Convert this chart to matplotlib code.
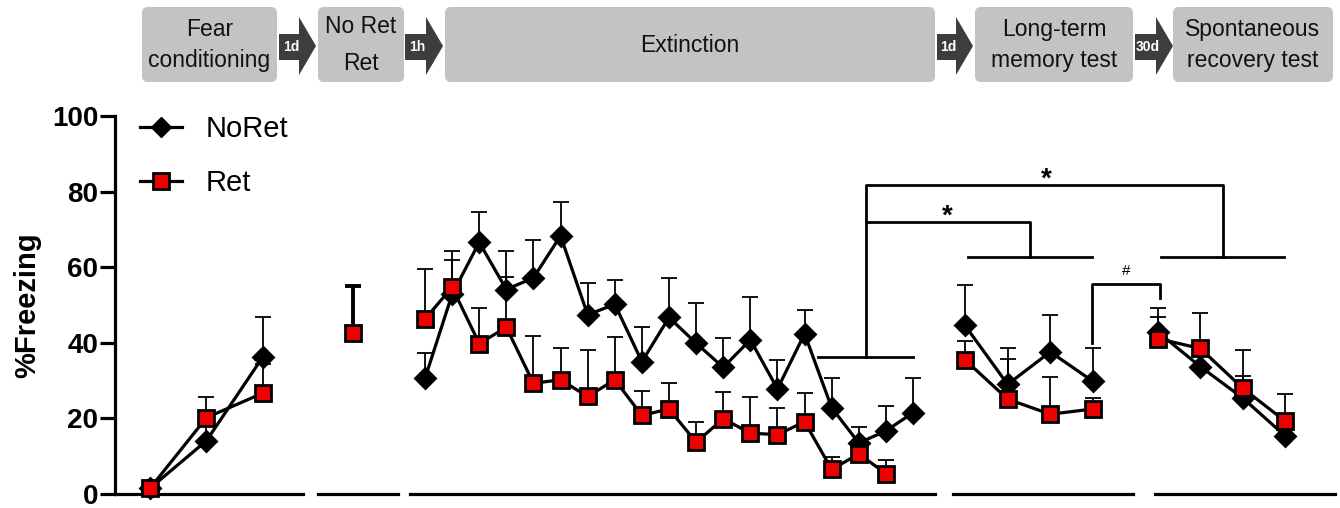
import numpy as np
import matplotlib
matplotlib.use("Agg")
import matplotlib.pyplot as plt
import matplotlib.patches as patches
from matplotlib.lines import Line2D

plt.rcParams["font.family"] = ["Liberation Sans", "DejaVu Sans"]

# ---- data (mean %freezing, upward SEM) ----
fc_trials = [1, 2, 3]
noret_fc = [1.5, 14.1, 36.3]
noret_fc_sem = [0.0, 6.0, 10.4]
ret_fc = [1.5, 20.2, 26.7]
ret_fc_sem = [0.0, 5.5, 7.8]

ret_trials = [1]
ret_ret = [42.7]
ret_ret_sem = [12.3]

ext_trials = list(range(1, 20))
noret_ext = [30.6, 52.8, 66.6, 54.1, 57.2, 68.3, 47.4, 50.2, 35.0, 46.7,
             39.9, 33.5, 40.8, 27.8, 42.4, 22.8, 13.5, 16.7, 21.5]
noret_ext_sem = [6.8, 9.2, 8.0, 10.2, 10.0, 8.9, 8.5, 6.3, 9.1, 10.5,
                 10.5, 7.7, 11.4, 7.6, 6.3, 7.8, 4.1, 6.5, 9.1]
ret_ext = [46.3, 54.7, 39.8, 44.1, 29.3, 30.2, 25.8, 30.2, 20.8, 22.5,
           13.7, 19.9, 16.1, 15.7, 19.1, 6.5, 10.6, 5.4]
ret_ext_sem = [13.3, 9.7, 9.5, 13.3, 12.4, 8.5, 12.4, 11.3, 6.4, 6.8,
               5.4, 7.0, 9.5, 7.1, 7.5, 3.2, 2.0, 3.5]

ltm_trials = [1, 2, 3, 4]
noret_ltm = [44.6, 29.0, 37.6, 29.8]
noret_ltm_sem = [10.8, 9.5, 9.7, 8.9]
ret_ltm = [35.5, 25.1, 21.1, 22.5]
ret_ltm_sem = [5.0, 10.5, 9.8, 3.0]

sr_trials = [1, 2, 3, 4]
noret_sr = [42.8, 33.7, 25.4, 15.4]
noret_sr_sem = [6.4, 4.0, 5.7, 4.0]
ret_sr = [41.1, 38.5, 28.0, 19.3]
ret_sr_sem = [5.6, 9.5, 10.0, 7.2]

yticks = [0, 20, 40, 60, 80, 100]

stages = ["Fear\nconditioning", "No Ret\nRet", "Extinction",
          "Long-term\nmemory test", "Spontaneous\nrecovery test"]
gaps = ["1d", "1h", "1d", "30d"]

RED = "#ee0000"
BOX = "#c3c3c3"
ARROW = "#3d3d3d"

W, H = 1340, 508
fig = plt.figure(figsize=(W / 100, H / 100), dpi=100)

y0_px, y100_px = 494, 116


def seg_axes(x0, x1, xlim):
    ax = fig.add_axes([x0 / W, (H - y0_px) / H, (x1 - x0) / W, (y0_px - y100_px) / H])
    ax.set_xlim(*xlim)
    ax.set_ylim(0, 100)
    ax.patch.set_alpha(0)
    for s in ["top", "right", "left"]:
        ax.spines[s].set_visible(False)
    ax.spines["bottom"].set_linewidth(2.3)
    ax.set_xticks([])
    ax.set_yticks([])
    return ax


def draw_series(ax, x, y, sem, marker, face, ms, z, elw=1.3):
    x = np.asarray(x)
    y = np.asarray(y)
    sem = np.asarray(sem)
    ax.errorbar(x, y, yerr=[np.zeros_like(sem), sem], fmt="none", ecolor="black",
                elinewidth=elw, capsize=5.5, capthick=elw, zorder=z, clip_on=False)
    ax.plot(x, y, color="black", lw=2.3, marker=marker, ms=ms, mfc=face,
            mec="black", mew=2.0, zorder=z + 1, clip_on=False)


# axes segments (pixel extents), xlim chosen so trials sit where they do in the figure
ax1 = seg_axes(115, 303, (0.38, 3.71))
ax2 = seg_axes(318, 398, (0.5625, 1.5625))
ax3 = seg_axes(410, 935, (0.447, 19.81))
ax4 = seg_axes(953, 1133, (0.719, 4.94))
ax5 = seg_axes(1155, 1335, (0.929, 5.18))

ax1.spines["left"].set_visible(True)
ax1.spines["left"].set_linewidth(2.3)
ax1.set_yticks(yticks)
ax1.tick_params(axis="y", length=11, width=2.3, pad=1, labelsize=20)
for lab in ax1.get_yticklabels():
    lab.set_fontweight("bold")
ax1.set_ylabel("%Freezing", fontsize=21, fontweight="bold", labelpad=8)

draw_series(ax1, fc_trials, noret_fc, noret_fc_sem, "D", "black", 10, 3)
draw_series(ax1, fc_trials, ret_fc, ret_fc_sem, "s", RED, 11, 5)

draw_series(ax2, ret_trials, ret_ret, ret_ret_sem, "s", RED, 11, 5, elw=2.8)

draw_series(ax3, ext_trials, noret_ext, noret_ext_sem, "D", "black", 10, 3)
draw_series(ax3, ext_trials[:len(ret_ext)], ret_ext, ret_ext_sem, "s", RED, 11, 5)

draw_series(ax4, ltm_trials, noret_ltm, noret_ltm_sem, "D", "black", 10, 3)
draw_series(ax4, ltm_trials, ret_ltm, ret_ltm_sem, "s", RED, 11, 5)

draw_series(ax5, sr_trials, noret_sr, noret_sr_sem, "D", "black", 10, 3)
draw_series(ax5, sr_trials, ret_sr, ret_sr_sem, "s", RED, 11, 5)

handles = [Line2D([], [], color="black", lw=2.3, marker="D", ms=10, mfc="black", mec="black"),
           Line2D([], [], color="black", lw=2.3, marker="s", ms=11, mfc=RED, mec="black", mew=2.0)]
ax1.legend(handles, ["NoRet", "Ret"], loc="upper left", frameon=False, fontsize=21,
           bbox_to_anchor=(140 / W, 1 - 115 / H), bbox_transform=fig.transFigure,
           borderaxespad=0, borderpad=0, handlelength=1.45, handletextpad=0.8,
           labelspacing=0.9)

# ---- overlay in pixel coords: header boxes and significance brackets ----
ov = fig.add_axes([0, 0, 1, 1], zorder=10)
ov.set_xlim(0, W)
ov.set_ylim(H, 0)
ov.axis("off")
ov.patch.set_alpha(0)

box_x = [(142, 277), (318, 404), (445, 935), (975, 1133), (1173, 1333)]
box_ls = [1.4, 1.75, 1.4, 1.4, 1.4]
for (bx0, bx1), label, ls in zip(box_x, stages, box_ls):
    ov.add_patch(patches.FancyBboxPatch((bx0 + 6, 13), bx1 - bx0 - 12, 63,
                                        boxstyle="round,pad=6", fc=BOX, ec="none"))
    ov.text((bx0 + bx1) / 2, 45, label, ha="center", va="center", fontsize=16.5,
            linespacing=ls, color="#111111")

arrow_x = [(279, 316), (405, 443), (937, 973), (1135, 1173)]
for (ax0_, ax1_), lab in zip(arrow_x, gaps):
    head = 17
    pts = [(ax0_, 34), (ax1_ - head, 34), (ax1_ - head, 17), (ax1_, 46),
           (ax1_ - head, 75), (ax1_ - head, 60), (ax0_, 60)]
    ov.add_patch(patches.Polygon(pts, closed=True, fc=ARROW, ec="none"))
    ov.text(ax0_ + (ax1_ - head - ax0_) / 2 + 2, 47, lab, ha="center", va="center",
            fontsize=10, fontweight="bold", color="white")

blw = 2.0
ov.plot([818, 913], [356.7, 356.7], color="black", lw=blw)
ov.plot([866, 866, 1223, 1223], [356.7, 185, 185, 256.7], color="black", lw=blw)
ov.plot([866, 1030, 1030], [221.7, 221.7, 256.7], color="black", lw=blw)
ov.plot([968, 1092], [256.7, 256.7], color="black", lw=blw)
ov.plot([1161, 1284], [256.7, 256.7], color="black", lw=blw)
ov.plot([1092, 1092, 1160, 1160], [342.7, 284, 284, 298.3], color="black", lw=blw)
ov.text(1046, 180, "*", ha="center", va="center", fontsize=20, fontweight="bold")
ov.text(947, 217, "*", ha="center", va="center", fontsize=20, fontweight="bold")
ov.text(1126, 271, "#", ha="center", va="center", fontsize=11)

fig.savefig("out.png", dpi=100)
